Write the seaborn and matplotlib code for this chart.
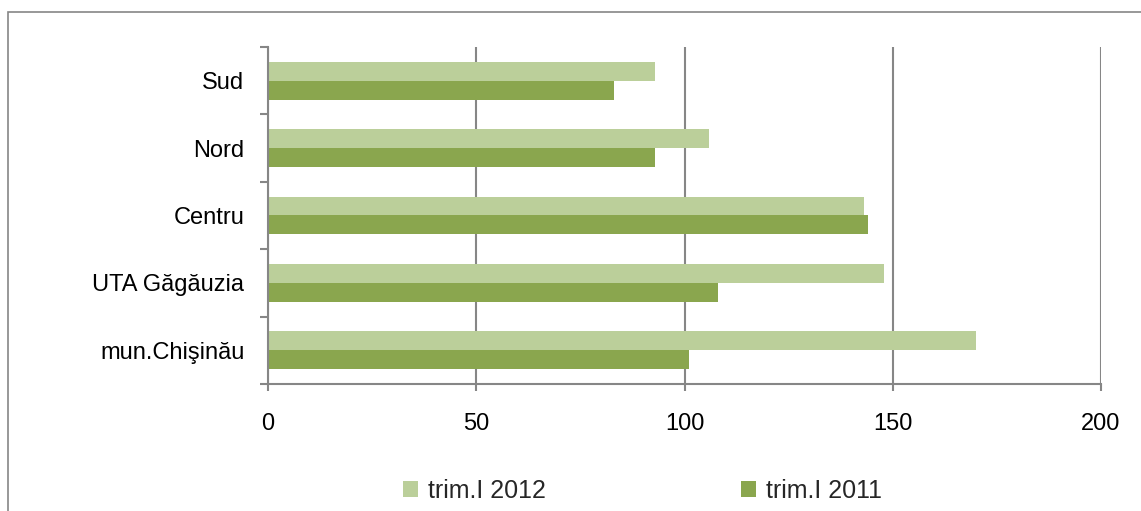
import matplotlib
matplotlib.use("Agg")
import matplotlib.pyplot as plt
import seaborn as sns
import pandas as pd
from matplotlib.patches import Rectangle

# Datos
regiones = ["Sud", "Nord", "Centru", "UTA Găgăuzia", "mun.Chişinău"]
trim_2012 = [93, 106, 143, 148, 170]
trim_2011 = [83, 93, 144, 108, 101]
series = ["trim.I 2012", "trim.I 2011"]
colores = ["#bbcf9a", "#8aa64e"]
ticks_x = [0, 50, 100, 150, 200]

df = pd.DataFrame({
    "region": regiones * 2,
    "valor": trim_2012 + trim_2011,
    "serie": [series[0]] * len(regiones) + [series[1]] * len(regiones),
})

sns.set_theme(style="white")
plt.rcParams["font.family"] = ["Liberation Sans", "DejaVu Sans"]

gris = "#868686"
fig = plt.figure(figsize=(11.41, 5.11), dpi=100)
ax = fig.add_axes([268 / 1141, 1 - 384 / 511, (1101 - 268) / 1141, (384 - 47) / 511])

sns.barplot(data=df, x="valor", y="region", hue="serie", order=regiones,
            hue_order=series, palette=colores, orient="h", width=0.56,
            saturation=1, linewidth=0, ax=ax, legend=True)

ax.set_xlim(0, 200)
ax.set_ylim(len(regiones) - 0.5, -0.5)
ax.set_xticks(ticks_x)
ax.set_xlabel("")
ax.set_ylabel("")
ax.grid(axis="x", color=gris, linewidth=1.5)
ax.grid(axis="y", visible=False)
ax.set_axisbelow(True)

for lado in ["top", "right"]:
    ax.spines[lado].set_visible(False)
for lado in ["left", "bottom"]:
    ax.spines[lado].set_color(gris)
    ax.spines[lado].set_linewidth(1.5)

ax.tick_params(axis="x", bottom=True, length=5, width=1.5, color=gris,
               labelsize=17, pad=16, labelcolor="black")
ax.tick_params(axis="y", which="major", left=False, length=0, labelsize=17,
               pad=17, labelcolor="black")
ax.set_yticks([i - 0.5 for i in range(len(regiones) + 1)], minor=True)
ax.tick_params(axis="y", which="minor", left=True, length=6, width=1.5, color=gris)

handles, labels = ax.get_legend_handles_labels()
ax.get_legend().remove()
fig.legend(handles, labels, loc="center", bbox_to_anchor=(0.563, 0.04), ncol=2,
           frameon=False, fontsize=18, handlelength=0.6, handleheight=0.6,
           handletextpad=0.4, columnspacing=7.8)

# Marco exterior del gráfico
fig.patches.append(Rectangle((8 / 1141, -0.5), 2, 1.5 - 12 / 511,
                             transform=fig.transFigure, fill=False,
                             edgecolor=gris, linewidth=1.2))

fig.savefig("out.png", dpi=100)
plt.close(fig)
